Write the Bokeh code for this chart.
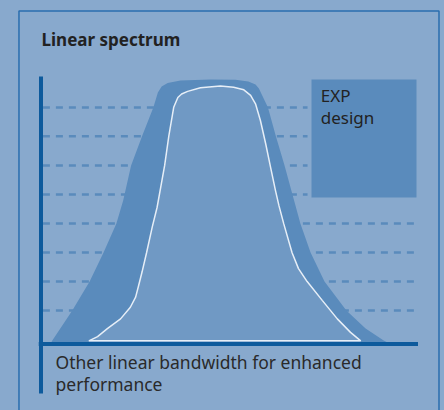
from bokeh.plotting import figure
from bokeh.models import Range1d
from bokeh.core.properties import value
from bokeh.embed import file_html
from bokeh.resources import INLINE

# ---- data (frequency 0..100, amplitude 0..100) ----
outer_freq = [2.5, 3.0, 8.3, 12.9, 16.6, 20.0, 21.8, 22.7, 23.9, 26.8, 29.8, 31.0, 32.0, 33.6, 37.0,
              44.9, 51.6, 55.0, 56.9, 57.8, 60.2, 62.3, 64.6, 66.7, 68.8, 71.5, 75.2, 81.0, 86.1, 90.9, 92.7]
outer_amp = [0, 1.3, 12.7, 23.6, 34.6, 45.6, 54.3, 59.9, 67.5, 78.5, 89.4, 95.1, 97.4, 98.7, 99.6,
             100, 99.9, 99.2, 98.1, 96.6, 89.4, 78.5, 67.5, 56.5, 45.6, 34.6, 23.6, 12.7, 5.9, 1.3, 0]

inner_freq = [12.7, 15.0, 17.6, 21.1, 23.7, 25.1, 25.9, 26.8, 28.0, 29.5, 30.8, 32.8, 33.9, 35.2, 36.3,
              37.3, 38.9, 42.3, 47.6, 51.1, 53.8, 55.6, 56.9, 58.2, 59.6, 60.9, 62.2, 63.1, 64.4, 66.6,
              68.3, 70.6, 74.6, 78.6, 82.1, 84.8]
inner_amp = [1.2, 2.8, 5.8, 9.5, 13.9, 17.7, 22.1, 27.2, 34.5, 44.2, 51.7, 67.5, 78.6, 89.5, 93.2,
             94.5, 95.5, 96.9, 97.5, 97.1, 96.1, 94.0, 90.8, 84.5, 75.7, 66.8, 58.0, 52.4, 45.4, 34.5,
             28.5, 23.6, 16.5, 9.5, 4.4, 1.2]

grid_levels = [12.7, 23.6, 34.6, 45.6, 56.5, 67.5, 78.5, 89.4]
grid_start = [0.5] * 8
grid_end = [99.3, 99.3, 99.3, 99.3, 70.7, 70.7, 70.7, 70.7]

box_left, box_right, box_top, box_bottom = 71.75, 99.6, 100.0, 55.4

title_text = "Linear spectrum"
box_lines = ["EXP", "design"]
caption_lines = ["Other linear bandwidth for enhanced", "performance"]

BG = "#88a9cd"
DARK = "#5a8bbc"
INNER = "#7099c4"
AXIS = "#0d5a9c"
TEXT = "#222222"

# figure covers the full 444x410 window (page px 0..444, 0..410)
x0 = -40.5 / 3.77
x1 = (444 - 40.5) / 3.77
y0 = (343.5 - 410) / 2.645
y1 = 343.5 / 2.645

p = figure(width=444, height=410, output_backend="svg", toolbar_location=None, title=None,
           x_range=Range1d(x0, x1), y_range=Range1d(y0, y1),
           min_border=0, min_border_left=0, min_border_right=0, min_border_top=0, min_border_bottom=0)
p.axis.visible = False
p.grid.visible = False
p.outline_line_color = None
p.background_fill_color = BG
p.border_fill_color = BG

# frame border
p.quad(left=[-5.84], right=[105.57], top=[125.9], bottom=[-40], fill_color=None,
       line_color="#2a6eae", line_width=1.5)

# dashed reference lines
p.segment(x0=grid_start, x1=grid_end, y0=grid_levels, y1=grid_levels,
          line_color=DARK, line_width=2.5, line_dash="7 6", line_cap="butt")

# outer spectrum
p.patch(outer_freq, outer_amp, fill_color=DARK, line_color=None)
# inner spectrum
p.patch(inner_freq, inner_amp, fill_color=INNER, line_color="#e6eef7", line_width=1.5)

# box
p.quad(left=[box_left], right=[box_right], top=[box_top], bottom=[box_bottom],
       fill_color=DARK, line_color=None)

# axes lines
p.segment(x0=[0], x1=[0], y0=[101.1], y1=[-18.7], line_color=AXIS, line_width=4, line_cap="butt")
p.segment(x0=[-0.6], x1=[100], y0=[0], y1=[0], line_color=AXIS, line_width=4, line_cap="butt")

# texts
p.text(x=[0.13], y=[115.0], text=[title_text], text_font=value("Noto Sans"), text_font_size="17px",
       text_font_style="bold", text_color=TEXT, text_baseline="alphabetic", text_align="left")
p.text(x=[74.2, 74.2], y=[94.0, 85.8], text=box_lines, text_font=value("Noto Sans"),
       text_font_size="17px", text_color=TEXT, text_baseline="alphabetic", text_align="left")
p.text(x=[3.85, 3.85], y=[-6.8, -15.3], text=caption_lines, text_font=value("Noto Sans"),
       text_font_size="17.5px", text_color="#2a2a2a", text_baseline="alphabetic", text_align="left")

html = file_html(p, INLINE)
html = html.replace("<head>", "<head><style>html,body{margin:0;padding:0;overflow:hidden;background:%s;}</style>" % BG, 1)
open("out.html", "w").write(html)
